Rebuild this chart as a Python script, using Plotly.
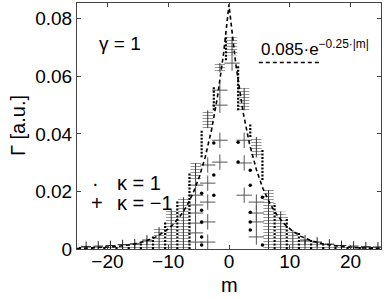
import numpy as np
import plotly.graph_objects as go

# ---------------- data ----------------
# kappa = 1 (dots): column positions, top value, lower end of dense part
dot_m = [-24.5, -22.5, -20.5, -18.5, -16.5, -14.5, -12.5, -10.5, -8.5, -6.5, -4.5, -2.5, -0.5,
         1.5, 3.5, 5.5, 7.5, 9.5, 11.5, 13.5, 15.5, 17.5, 19.5, 21.5, 23.5]
dot_top = [0.0008, 0.0009, 0.0010, 0.0012, 0.0015, 0.0022, 0.0049, 0.0094, 0.0170, 0.0264, 0.0413, 0.0566, 0.0736,
           0.0639, 0.0437, 0.0344, 0.0160, 0.0111, 0.0059, 0.0031, 0.0018, 0.0012, 0.0010, 0.0008, 0.0007]
dot_lo = [0, 0, 0, 0, 0, 0, 0, 0, 0, 0, 0.0319, 0.0482, 0.0656,
          0.0482, 0.0389, 0.0240, 0, 0, 0, 0, 0, 0, 0, 0, 0]
# isolated dots
dot_sparse_m = [-4.5, -4.5, -4.5, -4.5, -4.5, -2.5, -2.5, -2.5, 1.5, 1.5,
                3.5, 3.5, 3.5, 3.5, 3.5, 5.5, 5.5]
dot_sparse_G = [0.0194, 0.0135, 0.0094, 0.0042, 0.0014, 0.0368, 0.0257, 0.0187, 0.0371, 0.0302,
                0.0274, 0.0222, 0.0128, 0.0094, 0.0066, 0.0180, 0.0014]

# kappa = -1 (plus): column positions, top value, lower end of dense part
plus_m = [-23.5, -21.5, -19.5, -17.5, -15.5, -13.5, -11.5, -9.5, -7.5, -5.5, -3.5, -1.5, 0.5,
          2.5, 4.5, 6.5, 8.5, 10.5, 12.5, 14.5, 16.5, 18.5, 20.5, 22.5, 24.5]
plus_top = [0.0009, 0.0010, 0.0012, 0.0015, 0.0018, 0.0031, 0.0076, 0.0135, 0.0180, 0.0299, 0.0482, 0.0646, 0.0736,
            0.0559, 0.0389, 0.0205, 0.0130, 0.0066, 0.0031, 0.0024, 0.0017, 0.0012, 0.0010, 0.0008, 0.0007]
plus_lo = [0, 0, 0, 0, 0, 0, 0, 0, 0, 0.0240, 0.0420, 0.0614, 0.0673,
           0.0482, 0.0319, 0, 0, 0, 0, 0, 0, 0, 0, 0, 0]
# isolated plus markers
plus_sparse_m = [-5.5, -5.5, -5.5, -5.5, -5.5, -5.5, -5.5,
                 -3.5, -3.5, -3.5, -3.5, -3.5,
                 -1.5, -1.5, -1.5, -1.5,
                 0.5,
                 2.5, 2.5, 2.5,
                 4.5, 4.5, 4.5, 4.5]
plus_sparse_G = [0.0222, 0.0187, 0.0153, 0.0125, 0.0090, 0.0056, 0.0024,
                 0.0292, 0.0229, 0.0163, 0.0094, 0.0024,
                 0.0552, 0.0500, 0.0378, 0.0302,
                 0.0646,
                 0.0378, 0.0299, 0.0187,
                 0.0163, 0.0125, 0.0094, 0.0042]

# fit shown in the legend: 0.085 * exp(-0.25 |m|)
fit_A = 0.085
fit_k = 0.25

x_ticks = [-20, -10, 0, 10, 20]
x_ticktext = ['\u221220', '\u221210', '0', '10', '20']
y_ticks = [0, 0.02, 0.04, 0.06, 0.08]
y_ticktext = ['0', '0.02', '0.04', '0.06', '0.08']

# ---------------- figure ----------------
fig = go.Figure()

# hatch of stacked "+" markers
fig.add_trace(go.Bar(
    x=plus_m, y=[t - l for t, l in zip(plus_top, plus_lo)], base=plus_lo, width=1.7,
    marker=dict(color='rgba(0,0,0,0)', line=dict(width=0),
                pattern=dict(shape='-', size=3, solidity=0.3, fgcolor='#8a8a8a', fillmode='replace')),
    hoverinfo='skip'))

# vertical arms of the stacked "+" markers
vx, vy = [], []
for m, lo, top in zip(plus_m, plus_lo, plus_top):
    vx += [m, m, None]
    vy += [lo, top, None]
fig.add_trace(go.Scatter(x=vx, y=vy, mode='lines', line=dict(color='#333', width=1), hoverinfo='skip'))

# isolated "+" markers
fig.add_trace(go.Scatter(x=plus_sparse_m, y=plus_sparse_G, mode='markers',
                         marker=dict(symbol='cross-thin-open', size=11, color='#555',
                                     line=dict(width=1, color='#555')),
                         hoverinfo='skip'))
# small "+" on top of tail columns
tail_m = [m for m, t in zip(plus_m, plus_top) if t < 0.0035]
tail_G = [t for t in plus_top if t < 0.0035]
fig.add_trace(go.Scatter(x=tail_m, y=tail_G, mode='markers',
                         marker=dict(symbol='cross-thin-open', size=7, color='#222',
                                     line=dict(width=1, color='#222')),
                         hoverinfo='skip'))

# fit curve
mm = np.linspace(-25, 25, 1001)
fig.add_trace(go.Scatter(x=mm, y=fit_A * np.exp(-fit_k * np.abs(mm)), mode='lines',
                         line=dict(color='black', width=1.6, dash='4px,3px'), hoverinfo='skip'))

# columns of dots
dx, dy = [], []
for m, lo, top in zip(dot_m, dot_lo, dot_top):
    dx += [m, m, None]
    dy += [lo, top, None]
fig.add_trace(go.Scatter(x=dx, y=dy, mode='lines',
                         line=dict(color='black', width=2.2, dash='2px,1.5px'), hoverinfo='skip'))
fig.add_trace(go.Scatter(x=dot_sparse_m, y=dot_sparse_G, mode='markers',
                         marker=dict(symbol='circle', size=3.5, color='black'), hoverinfo='skip'))

fnt = 'Liberation Sans, Arial, Helvetica, sans-serif'
fig.update_layout(
    width=387, height=299, margin=dict(l=77, r=6, t=3, b=50),
    plot_bgcolor='white', paper_bgcolor='white', showlegend=False, barmode='overlay',
    font=dict(family=fnt, color='black'),
    annotations=[
        dict(x=-0.194, y=0.5, xref='paper', yref='paper', text='\u0393 [a.u.]', showarrow=False,
             textangle=-90, xanchor='center', yanchor='middle', font=dict(size=20)),
        dict(x=0.5, y=-0.146, xref='paper', yref='paper', text='m', showarrow=False,
             xanchor='center', yanchor='middle', font=dict(size=20)),
        dict(x=-21.7, y=0.0715, xref='x', yref='y', text='\u03b3 = 1', showarrow=False,
             xanchor='left', yanchor='middle', font=dict(size=19)),
        dict(x=5.0, y=0.0699, xref='x', yref='y', text='0.085\u00b7e<sup>\u22120.25\u00b7|m|</sup>',
             showarrow=False, xanchor='left', yanchor='middle', font=dict(size=17)),
        dict(x=-22.0, y=0.0229, xref='x', yref='y', text='\u00b7', showarrow=False,
             xanchor='center', yanchor='middle', font=dict(size=20)),
        dict(x=-18.75, y=0.0229, xref='x', yref='y', text='\u03ba = 1', showarrow=False,
             xanchor='left', yanchor='middle', font=dict(size=20)),
        dict(x=-21.7, y=0.0160, xref='x', yref='y', text='+', showarrow=False,
             xanchor='center', yanchor='middle', font=dict(size=20)),
        dict(x=-18.75, y=0.0160, xref='x', yref='y', text='\u03ba = \u22121', showarrow=False,
             xanchor='left', yanchor='middle', font=dict(size=20)),
    ],
    shapes=[dict(type='line', xref='x', yref='y', x0=4.9, x1=15.0, y0=0.0648, y1=0.0648,
                 line=dict(color='black', width=1.6, dash='4px,3px'))],
)
fig.update_xaxes(range=[-25, 25], tickvals=x_ticks, ticktext=x_ticktext, ticks='inside', ticklen=4,
                 tickcolor='#444', showline=True, linecolor='#444', linewidth=1, mirror='ticks',
                 showgrid=False, zeroline=False, tickfont=dict(size=19), automargin=False,
                 ticklabelstandoff=-5)
fig.update_yaxes(range=[0, 0.0855], tickvals=y_ticks, ticktext=y_ticktext, ticks='inside', ticklen=4,
                 tickcolor='#444', showline=True, linecolor='#444', linewidth=1, mirror='ticks',
                 showgrid=False, zeroline=False, tickfont=dict(size=19), automargin=False)

fig.write_html('out.html', config={'displayModeBar': False},
               post_script="document.body.style.margin='0';document.body.style.padding='0';")
